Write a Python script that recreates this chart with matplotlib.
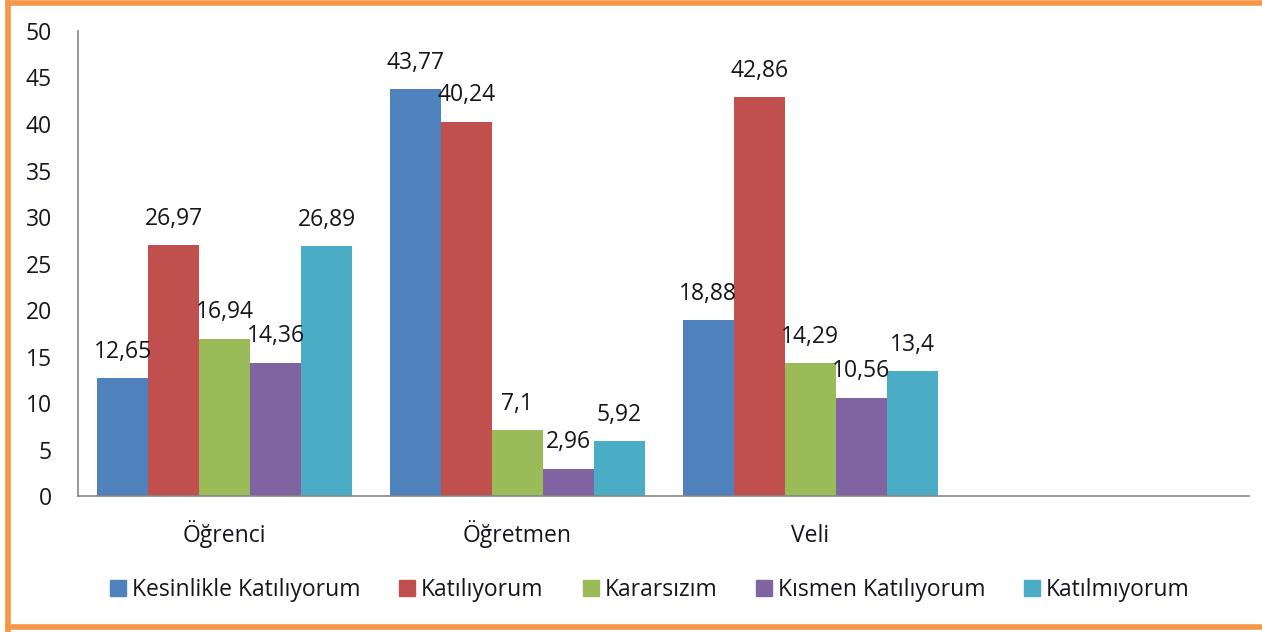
import matplotlib
matplotlib.use('Agg')
import numpy as np
import matplotlib.pyplot as plt
from matplotlib.lines import Line2D

categories = ['Öğrenci', 'Öğretmen', 'Veli', '']
series = ['Kesinlikle Katılıyorum', 'Katılıyorum', 'Kararsızım',
          'Kısmen Katılıyorum', 'Katılmıyorum']
kesinlikle = [12.65, 43.77, 18.88]
katiliyorum = [26.97, 40.24, 42.86]
kararsizim = [16.94, 7.1, 14.29]
kismen = [14.36, 2.96, 10.56]
katilmiyorum = [26.89, 5.92, 13.4]
values = [kesinlikle, katiliyorum, kararsizim, kismen, katilmiyorum]

colors = ['#4F81BD', '#C0504D', '#9BBB59', '#8064A2', '#4BACC6']

plt.rcParams['font.family'] = ['Open Sans', 'DejaVu Sans']
tc = '#151520'
fs = 16.5

fig = plt.figure(figsize=(12.62, 6.32), dpi=100)
ax = fig.add_axes([0.062, 0.215, 0.928, 0.736])

x = np.arange(len(categories))
w = 0.174
for i, vals in enumerate(values):
    xs = x[:len(vals)] + (i - 2) * w
    ax.bar(xs, vals, width=w, color=colors[i], label=series[i], zorder=2)
    for j, v in enumerate(vals):
        txt = f'{v:g}'.replace('.', ',')
        ax.annotate(txt, (xs[j], v), xytext=(0, 19),
                    textcoords='offset points', ha='center', va='center',
                    fontsize=fs, color=tc, zorder=3)

ax.set_xlim(-0.5, 3.5)
ax.set_ylim(0, 50)
ax.set_yticks(range(0, 51, 5))
ax.set_xticks(x)
ax.set_xticklabels(categories, va='baseline')
ax.tick_params(axis='both', length=0, labelsize=fs, colors=tc)
ax.tick_params(axis='x', pad=33)
ax.tick_params(axis='y', pad=19)
for s in ['top', 'right']:
    ax.spines[s].set_visible(False)
for s in ['left', 'bottom']:
    ax.spines[s].set_color('#868686')
    ax.spines[s].set_linewidth(1.2)

handles = [plt.Rectangle((0, 0), 1, 1, color=c) for c in colors]
fig.legend(handles, series, loc='center', bbox_to_anchor=(0.515, 0.066),
           ncol=5, frameon=False, fontsize=fs, handlelength=0.7,
           handleheight=0.7, handletextpad=0.25, columnspacing=1.7,
           labelcolor=tc)

# orange frame (top, left, bottom)
oc = '#F79646'
fig.add_artist(Line2D([0.006, 1.0], [0.996, 0.996], color=oc, lw=4,
                      transform=fig.transFigure))
fig.add_artist(Line2D([0.006, 0.006], [0.003, 0.996], color=oc, lw=4,
                      transform=fig.transFigure))
fig.add_artist(Line2D([0.006, 1.0], [0.008, 0.008], color=oc, lw=4,
                      transform=fig.transFigure))

fig.savefig('out.png', dpi=100)
